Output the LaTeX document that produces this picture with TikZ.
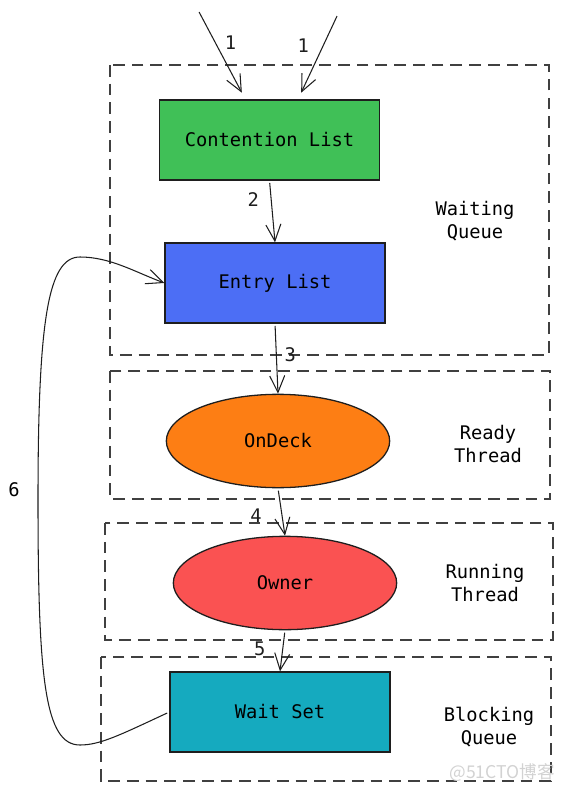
\documentclass[tikz,border=0pt]{standalone}
\usepackage{fontspec}
\setmonofont{DejaVu Sans Mono}
\newfontfamily\cjkfont{Noto Sans CJK SC}
\usetikzlibrary{arrows.meta, shapes.geometric}

\definecolor{clgreen}{HTML}{40C057}
\definecolor{elblue}{HTML}{4C6EF5}
\definecolor{odorange}{HTML}{FD7E14}
\definecolor{owred}{HTML}{FA5252}
\definecolor{wsteal}{HTML}{15AABF}
\definecolor{ink}{HTML}{1E1E1E}

\begin{document}
\begin{tikzpicture}[x=0.03cm, y=-0.03cm,
        font=\ttfamily\fontsize{16}{20}\selectfont,
        block/.style={draw=ink, line width=1.1pt, minimum width=6.6cm, minimum height=2.4cm},
        blob/.style={ellipse, draw=ink, line width=1.1pt, minimum width=6.7cm, minimum height=2.8cm},
        queue/.style={draw=ink!85, line width=0.9pt, dash pattern=on 10pt off 6pt},
        note/.style={align=center},
        go/.style={-{Straight Barb[length=5mm, width=4.5mm]}, line width=0.9pt, color=ink, shorten <=2pt}]
        \useasboundingbox (0,0) rectangle (563,791);

        % queues
        \draw [queue] (110,65) rectangle (549,355);
        \draw [queue] (110,371) rectangle (550,499);
        \draw [queue] (105,523) rectangle (553,640);
        \draw [queue] (101,657) rectangle (551,781);

        \node (cl) [block, fill=clgreen] at (269.5,140) {Contention List};
        \node (el) [block, fill=elblue] at (275,283) {Entry List};
        \node (od) [blob, fill=odorange] at (278,441) {OnDeck};
        \node (ow) [blob, fill=owred] at (285,583) {Owner};
        \node (ws) [block, fill=wsteal] at (280,712) {Wait Set};

        \node (wq) [note] at (475,221) {Waiting\\Queue};
        \node (rt) [note] at (488,444) {Ready\\Thread};
        \node (rn) [note] at (485,583) {Running\\Thread};
        \node (bq) [note] at (489,727) {Blocking\\Queue};

        \coordinate (in1) at (198,10);
        \coordinate (in2) at (338,14);

        \path [go]
        (in1) edge node [pos=0.4, xshift=0.45cm] {1} ([xshift=-0.83cm, yshift=0.2cm]cl.north)
        (in2) edge node [pos=0.4, xshift=-0.6cm] {1} ([xshift=0.95cm, yshift=0.2cm]cl.north)
        (cl.south) edge node [pos=0.3, xshift=-0.54cm] {2} (el.north)
        (el.south) edge node [pos=0.45, xshift=0.42cm] {3} (od.north)
        (od.south) edge node [pos=0.58, xshift=-0.78cm] {4} (ow.north)
        (ow.south) edge node [pos=0.45, xshift=-0.69cm] {5} (ws.north);

        \draw [go] (ws.west) .. controls (120,735) and (100,745) .. (80,745)
        .. controls (45,745) and (38,680) .. (38,500)
        .. controls (38,320) and (48,257) .. (80,257)
        .. controls (110,257) and (135,272) .. (el.west);
        \node (six) at (14,490) {6};

        \node (mark) [text=gray!35, font=\cjkfont\fontsize{15}{15}\selectfont] at (502,773) {@51CTO博客};
    \end{tikzpicture}
\end{document}
